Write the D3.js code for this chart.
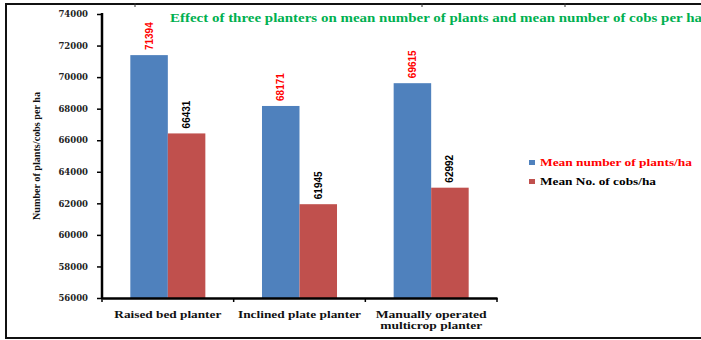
<!DOCTYPE html>
<html>
<head>
<meta charset="utf-8">
<script src="https://cdn.jsdelivr.net/npm/d3@7"></script>
<style>
  html, body { margin: 0; padding: 0; background: #fff; }
  svg { display: block; }
</style>
</head>
<body>
<svg id="chart" width="701" height="340"></svg>
<script>
// Planter types and the two measured series
const categories = [["Raised bed planter"], ["Inclined plate planter"], ["Manually operated", "multicrop planter"]];
const seriesNames = ["Mean number of plants/ha", "Mean No. of cobs/ha"];
const plantsPerHa = [71394, 68171, 69615];
const cobsPerHa = [66431, 61945, 62992];
const yTicks = [56000, 58000, 60000, 62000, 64000, 66000, 68000, 70000, 72000, 74000];

const seriesValues = [plantsPerHa, cobsPerHa];
const barColors = ["#4f81bd", "#c0504d"];
const labelColors = ["#ff0000", "#000000"];
const legendTextColors = ["#ff0000", "#000000"];

const svg = d3.select("#chart");
const plot = { left: 102, right: 497, top: 14, bottom: 298 };

// Frame around the figure
const frame = svg.append("g").attr("stroke", "#111").attr("stroke-width", 2);
frame.append("line").attr("x1", 5).attr("x2", 701).attr("y1", 4).attr("y2", 4);
frame.append("line").attr("x1", 6).attr("x2", 6).attr("y1", 3).attr("y2", 339);
frame.append("line").attr("x1", 5).attr("x2", 701).attr("y1", 338).attr("y2", 338);
[135, 422, 565].forEach(x => {
  svg.append("line").attr("x1", x).attr("x2", x).attr("y1", 3).attr("y2", 7)
    .attr("stroke", "#333").attr("stroke-width", 1);
});

const y = d3.scaleLinear().domain([56000, 74000]).range([plot.bottom, plot.top]);
const x0 = d3.scaleBand().domain(d3.range(categories.length)).range([plot.left, plot.right]);
const x1 = d3.scaleBand().domain(d3.range(seriesNames.length))
  .range([0, x0.bandwidth()]).paddingOuter(0.755);

// Bars
const groups = svg.append("g").selectAll("g")
  .data(d3.range(categories.length)).join("g")
  .attr("transform", i => `translate(${x0(i)},0)`);

groups.selectAll("rect")
  .data(i => seriesValues.map((s, k) => ({ k, v: s[i] })))
  .join("rect")
  .attr("x", d => x1(d.k))
  .attr("width", x1.bandwidth())
  .attr("y", d => y(d.v))
  .attr("height", d => y(56000) - y(d.v))
  .attr("fill", d => barColors[d.k]);

// Value labels, rotated above each bar
groups.selectAll("text")
  .data(i => seriesValues.map((s, k) => ({ k, v: s[i] })))
  .join("text")
  .attr("transform", d => `translate(${x1(d.k) + x1.bandwidth() / 2 + 3.5},${y(d.v) - 5}) rotate(-90)`)
  .attr("font-family", "'Liberation Sans', Arial, sans-serif")
  .attr("font-weight", "bold")
  .attr("font-size", 10)
  .attr("fill", d => labelColors[d.k])
  .text(d => d.v);

// Y axis
const yAxis = svg.append("g")
  .attr("transform", `translate(${plot.left},0)`)
  .call(d3.axisLeft(y).tickValues(yTicks).tickSize(5).tickPadding(9).tickFormat(d3.format("d")));
yAxis.select(".domain").attr("stroke", "#000").attr("stroke-width", 2.5).attr("d", `M0,${plot.top - 1}V${plot.bottom + 1}`);
yAxis.selectAll(".tick line").attr("stroke", "#000").attr("stroke-width", 1.5);
yAxis.selectAll(".tick text")
  .attr("font-family", "'DejaVu Serif', serif")
  .attr("font-weight", "bold")
  .attr("font-size", 8.5)
  .attr("fill", "#222");

// X axis
const xAxis = svg.append("g")
  .attr("transform", `translate(0,${plot.bottom})`)
  .call(d3.axisBottom(x0).tickSize(0).tickFormat(""));
xAxis.select(".domain").attr("stroke", "#000").attr("stroke-width", 2.5);
const boundaries = [...d3.range(categories.length).map(i => x0(i)), plot.right];
xAxis.selectAll(".bound").data(boundaries).join("line")
  .attr("x1", d => d).attr("x2", d => d).attr("y1", 0).attr("y2", 4)
  .attr("stroke", "#000").attr("stroke-width", 1.5);

// Category labels
const catLabelWidths = [[107], [123], [111, 102]];
const catGroup = svg.append("g");
categories.forEach((lines, i) => {
  lines.forEach((line, j) => {
    catGroup.append("text")
      .attr("x", x0(i) + x0.bandwidth() / 2)
      .attr("y", 318 + j * 11)
      .attr("text-anchor", "middle")
      .attr("font-family", "'Liberation Serif', 'Times New Roman', serif")
      .attr("font-weight", "bold")
      .attr("font-size", 10)
      .attr("textLength", catLabelWidths[i][j])
      .attr("lengthAdjust", "spacingAndGlyphs")
      .attr("fill", "#111")
      .text(line);
  });
});

// Y axis title
svg.append("text")
  .attr("transform", "translate(40,156) rotate(-90)")
  .attr("text-anchor", "middle")
  .attr("font-family", "'Liberation Serif', 'Times New Roman', serif")
  .attr("font-weight", "bold")
  .attr("font-size", 10)
  .attr("textLength", 128)
  .attr("lengthAdjust", "spacingAndGlyphs")
  .attr("fill", "#111")
  .text("Number of plants/cobs per ha");

// Chart title
svg.append("text")
  .attr("x", 170)
  .attr("y", 22)
  .attr("font-family", "'Liberation Serif', 'Times New Roman', serif")
  .attr("font-weight", "bold")
  .attr("font-size", 12)
  .attr("textLength", 532)
  .attr("lengthAdjust", "spacingAndGlyphs")
  .attr("fill", "#00b050")
  .text("Effect of three planters on mean number of plants and mean number of cobs per ha");

// Legend
const legendWidths = [152, 116];
const legend = svg.append("g").selectAll("g")
  .data(seriesNames).join("g")
  .attr("transform", (d, i) => `translate(529,${160 + i * 19})`);
legend.append("rect").attr("width", 6).attr("height", 5)
  .attr("fill", (d, i) => barColors[i]);
legend.append("text")
  .attr("x", 11).attr("y", 6)
  .attr("font-family", "'Liberation Serif', 'Times New Roman', serif")
  .attr("font-weight", "bold")
  .attr("font-size", 10)
  .attr("textLength", (d, i) => legendWidths[i])
  .attr("lengthAdjust", "spacingAndGlyphs")
  .attr("fill", (d, i) => legendTextColors[i])
  .text(d => d);
</script>
</body>
</html>
